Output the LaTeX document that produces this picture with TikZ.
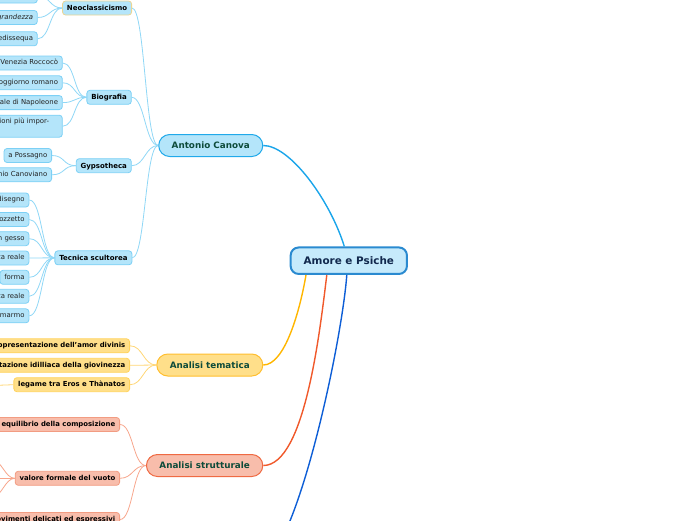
\documentclass[tikz,border=0pt]{standalone}
\usepackage{fontspec}
\setmainfont{DejaVu Sans}
\definecolor{rootfill}{HTML}{C6EAFB}
\definecolor{rootborder}{HTML}{2A8AD0}
\definecolor{roottext}{HTML}{11284D}
\definecolor{bluefill}{HTML}{B4E5FA}
\definecolor{mainblueborder}{HTML}{20A9EA}
\definecolor{leafborder}{HTML}{7CD0F5}
\definecolor{bluelink}{HTML}{8FD7F6}
\definecolor{maintext}{HTML}{0D4B3A}
\definecolor{yellowfill}{HTML}{FFDF8A}
\definecolor{yellowborder}{HTML}{FFBE2E}
\definecolor{yleafborder}{HTML}{FFD35C}
\definecolor{ylink}{HTML}{FFD675}
\definecolor{salmonfill}{HTML}{F8BDAB}
\definecolor{salmonborder}{HTML}{EF6A43}
\definecolor{sleafborder}{HTML}{F29C82}
\definecolor{slink}{HTML}{F7A68C}
\definecolor{neoborder}{HTML}{EBD593}
\definecolor{lcanova}{HTML}{1AA5EA}
\definecolor{ltem}{HTML}{FFB600}
\definecolor{lstr}{HTML}{F0592B}
\definecolor{lblue}{HTML}{0D5ED6}
\definecolor{leaftext}{HTML}{222222}
\begin{document}
\begin{tikzpicture}[x=1pt,y=-1pt,
  rootbox/.style={draw=rootborder, line width=2pt, fill=rootfill, rounded corners=8pt,
    minimum height=26.5pt, inner xsep=13pt, inner ysep=0pt,
    font=\fontsize{10.4}{12}\selectfont\bfseries, text=roottext,
    text height=7.6pt, text depth=0.3pt},
  mainbox/.style={line width=1pt, rounded corners=11pt, minimum height=22pt,
    inner xsep=13pt, inner ysep=0pt, anchor=east,
    font=\fontsize{8.8}{10}\selectfont\bfseries, text=maintext,
    text height=6.5pt, text depth=0.3pt},
  subbox/.style={draw=leafborder, line width=0.8pt, fill=bluefill, rounded corners=3pt,
    minimum height=14pt, inner xsep=4.4pt, inner ysep=0pt, anchor=east,
    font=\fontsize{7}{8.5}\selectfont\bfseries, text=black,
    text height=5.2pt, text depth=0.3pt},
  leafbase/.style={draw=leafborder, line width=0.8pt, fill=bluefill, rounded corners=3pt,
    minimum height=14pt, inner xsep=4.3pt, inner ysep=0pt, anchor=east,
    font=\fontsize{6.9}{8.5}\selectfont, text=leaftext},
  leafbox/.style={leafbase, text height=5.2pt, text depth=1.3pt},
  yleaf/.style={leafbox, draw=yleafborder, fill=yellowfill, font=\fontsize{6.9}{8.5}\selectfont\bfseries, text=black},
  sleaf/.style={leafbox, draw=sleafborder, fill=salmonfill, font=\fontsize{6.9}{8.5}\selectfont\bfseries, text=black},
  blink/.style={draw=bluelink, line width=0.8pt},
  ylinkst/.style={draw=ylink, line width=0.8pt},
  slinkst/.style={draw=slink, line width=0.8pt},
  rlink/.style={line width=1.4pt}
]
\useasboundingbox (0,0) rectangle (696,520);

% root
\node[rootbox] (root) at (348.8,260.7) {Amore e Psiche};

% main branches
\node[mainbox, draw=mainblueborder, fill=bluefill] (canova) at (263.3,145.5) {Antonio Canova};
\node[mainbox, draw=yellowborder, fill=yellowfill] (tem) at (263.3,365) {Analisi tematica};
\node[mainbox, draw=salmonborder, fill=salmonfill] (str) at (263.3,465.5) {Analisi strutturale};
\coordinate (hidden) at (263,565);

% Canova sub-branches
\node[subbox, draw=neoborder] (neo) at (132,8) {Neoclassicismo};
\node[subbox] (bio) at (131.7,97.3) {Biografia};
\node[subbox] (gyp) at (131.7,165.7) {Gypsotheca};
\node[subbox] (tec) at (132.3,257.8) {Tecnica scultorea};

% Neoclassicismo leaves
\node[leafbox, minimum width=60pt] (n0) at (37.7,-4) {};
\node[leafbox, font=\fontsize{6.9}{8.5}\selectfont\itshape] (n1) at (37.7,17.5) {grandezza};
\node[leafbox] (n2) at (37.7,38.8) {pedissequa};

% Biografia leaves
\node[leafbox] (b1) at (62.7,63) {La formazione nella Venezia Roccocò};
\node[leafbox] (b2) at (62.7,82.8) {Il soggiorno romano};
\node[leafbox] (b3) at (62.7,102.6) {Scultore ufficiale di Napoleone};
\node[leafbase, minimum height=22pt] (b4) at (62.7,126.2)
  {\begin{tabular}{@{}l@{}}Le commissioni più impor-\kern9pt\\tanti\end{tabular}};

% Gypsotheca leaves
\node[leafbox] (g1) at (52,155.5) {a Possagno};
\node[leafbox] (g2) at (52,174.8) {Il patrimonio Canoviano};

% Tecnica leaves
\node[leafbox] (t1) at (29.3,200) {il disegno};
\node[leafbox] (t2) at (29.3,219.5) {il bozzetto};
\node[leafbox] (t3) at (29.3,238.7) {il modello in gesso};
\node[leafbox] (t4) at (29.3,258) {modello a grandezza reale};
\node[leafbox] (t5) at (29.3,277.3) {forma};
\node[leafbox] (t6) at (29.3,296.3) {statua a grandezza reale};
\node[leafbox] (t7) at (29.3,315.8) {il marmo};

% Tematica leaves
\node[yleaf] (y1) at (130,345.8) {la rappresentazione dell'amor divinis};
\node[yleaf] (y2) at (130,365.3) {rappresentazione idilliaca della giovinezza};
\node[yleaf] (y3) at (130,384.7) {legame tra Eros e Thànatos};
\coordinate (y3c) at (-8,385.5);

% Strutturale leaves
\node[sleaf] (s1) at (120,424.5) {equilibrio della composizione};
\node[sleaf] (s2) at (120,478.3) {valore formale del vuoto};
\node[sleaf] (s3) at (120,519.5) {movimenti delicati ed espressivi};
\coordinate (s2a) at (-8,460);
\coordinate (s2b) at (-8,478.3);
\coordinate (s2c) at (-8,497);

% root connectors
\draw[rlink, lcanova] (canova.east) .. controls (290,145.5) and (330,200) .. ([xshift=-4.5pt]root.north);
\draw[rlink, ltem] ([xshift=-42.8pt]root.south) .. controls (300,310) and (285,365) .. (tem.east);
\draw[rlink, lstr] ([xshift=-22pt]root.south) .. controls (320,330) and (305,465.5) .. (str.east);
\draw[rlink, lblue] ([xshift=-2pt]root.south) .. controls (342,340) and (300,540) .. (hidden);

% Canova connectors
\foreach \c in {neo,bio,gyp,tec}
  \draw[blink] (canova.west) .. controls +(-13,0) and +(13,0) .. (\c.east);
\foreach \c in {n0,n1,n2}
  \draw[blink] (neo.west) .. controls +(-12.5,0) and +(12.5,0) .. (\c.east);
\foreach \c in {b1,b2,b3,b4}
  \draw[blink] (bio.west) .. controls +(-12.5,0) and +(12.5,0) .. (\c.east);
\foreach \c in {g1,g2}
  \draw[blink] (gyp.west) .. controls +(-13,0) and +(13,0) .. (\c.east);
\foreach \c in {t1,t2,t3,t4,t5,t6,t7}
  \draw[blink] (tec.west) .. controls +(-13,0) and +(13,0) .. (\c.east);

% Tematica connectors
\foreach \c in {y1,y2,y3}
  \draw[ylinkst] (tem.west) .. controls +(-13,0) and +(13,0) .. (\c.east);
\draw[ylinkst] (y3.west) .. controls +(-10,0) and +(10,0) .. (y3c);

% Strutturale connectors
\foreach \c in {s1,s2,s3}
  \draw[slinkst] (str.west) .. controls +(-13,0) and +(13,0) .. (\c.east);
\foreach \c in {s2a,s2b,s2c}
  \draw[slinkst] (s2.west) .. controls +(-10,0) and +(10,0) .. (\c);
\end{tikzpicture}
\end{document}
